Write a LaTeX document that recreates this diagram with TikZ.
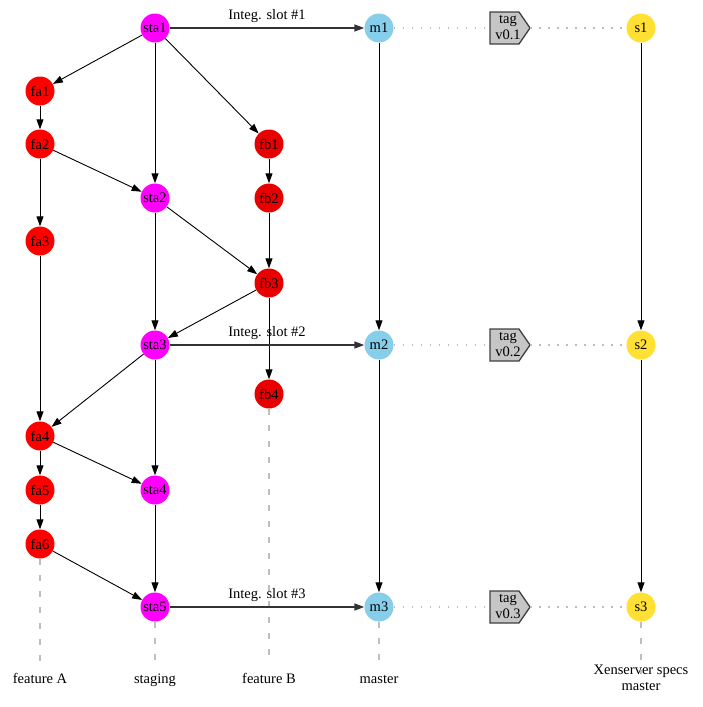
\documentclass[tikz,border=0pt]{standalone}
\usepackage{fontspec}
\setmainfont{Liberation Serif}
\usetikzlibrary{arrows.meta}
\definecolor{fared}{HTML}{FF0000}
\definecolor{fbred}{HTML}{E80000}
\definecolor{stamag}{HTML}{FF00FF}
\definecolor{msky}{HTML}{87CEEB}
\definecolor{syel}{HTML}{FFE033}
\definecolor{taggray}{HTML}{C6C6C6}
\definecolor{tagedge}{HTML}{404040}
\definecolor{guide}{HTML}{BEBEBE}
\definecolor{integ}{HTML}{333333}
\newcommand{\labelfont}{\fontsize{14.5}{16}\selectfont}
\tikzset{
  commit/.style={circle, minimum size=29pt, inner sep=0pt, draw=none, font=\labelfont},
  fa/.style={commit, fill=fared},
  fb/.style={commit, fill=fbred},
  sta/.style={commit, fill=stamag},
  mc/.style={commit, fill=msky},
  sc/.style={commit, fill=syel},
  flow/.style={draw=black, line width=0.9pt, -{Triangle[length=10pt,width=7pt]}},
  integedge/.style={draw=integ, line width=1.6pt, -{Triangle[length=10pt,width=7pt]}},
  integlabel/.style={midway, anchor=south, yshift=5pt, inner sep=0pt, text depth=3pt, font=\labelfont},
  tagline/.style={draw=guide, line width=1.4pt, dash pattern=on 1.5pt off 7.5pt},
  lane/.style={draw=guide, line width=1.2pt, dash pattern=on 6pt off 10pt},
  tagbox/.style={minimum width=40pt, minimum height=32pt, inner sep=0pt, draw=none},
  tagtext/.style={align=center, inner sep=0pt, font=\labelfont},
  branchlabel/.style={anchor=base, inner sep=0pt, text height=10pt, text depth=3pt, font=\labelfont, align=center},
}
% pentagon release tag drawn around a tagbox node
\newcommand{\tagshape}[1]{%
  \fill[taggray, draw=tagedge, line width=1.3pt]
    ([xshift=-20pt]#1.center) ++(0,-16) -- ++(29,0) -- ++(11,16) -- ++(-11,16) -- ++(-29,0) -- cycle;}
\begin{document}
\begin{tikzpicture}[x=1pt, y=-1pt]
\useasboundingbox (0,0) rectangle (703,707);

% commits
\node[sta] (sta1) at (155,28) {sta1};
\node[sta] (sta2) at (155,198) {sta2};
\node[sta] (sta3) at (155,345) {sta3};
\node[sta] (sta4) at (155,490) {sta4};
\node[sta] (sta5) at (155,607) {sta5};

\node[fa] (fa1) at (40,91) {fa1};
\node[fa] (fa2) at (40,144) {fa2};
\node[fa] (fa3) at (40,241) {fa3};
\node[fa] (fa4) at (40,436) {fa4};
\node[fa] (fa5) at (40,490) {fa5};
\node[fa] (fa6) at (40,544) {fa6};

\node[fb] (fb1) at (269,144) {fb1};
\node[fb] (fb2) at (269,198) {fb2};
\node[fb] (fb3) at (269,283) {fb3};
\node[fb] (fb4) at (269,394) {fb4};

\node[mc] (m1) at (379,28) {m1};
\node[mc] (m2) at (379,345) {m2};
\node[mc] (m3) at (379,607) {m3};

\node[sc] (s1) at (641,28) {s1};
\node[sc] (s2) at (641,345) {s2};
\node[sc] (s3) at (641,607) {s3};

% release tags
\node[tagbox] (t1) at (510,28) {};
\node[tagbox] (t2) at (510,345) {};
\node[tagbox] (t3) at (510,607) {};
\tagshape{t1}
\tagshape{t2}
\tagshape{t3}
\node[tagtext] (t1l) at (508,28) {tag\\v0.1};
\node[tagtext] (t2l) at (508,345) {tag\\v0.2};
\node[tagtext] (t3l) at (508,607) {tag\\v0.3};

\draw[tagline] (m1) -- (t1.west);
\draw[tagline] (t1.east) -- (s1);
\draw[tagline] (m2) -- (t2.west);
\draw[tagline] (t2.east) -- (s2);
\draw[tagline] (m3) -- (t3.west);
\draw[tagline] (t3.east) -- (s3);

% branch labels
\node[branchlabel] (lfa) at (40,683) {feature A};
\node[branchlabel] (lsta) at (155,683) {staging};
\node[branchlabel] (lfb) at (269,683) {feature B};
\node[branchlabel] (lm) at (379,683) {master};
\node[branchlabel] (ls) at (641,690) {Xenserver specs\\master};

\draw[lane, shorten >=11pt] (fa6) -- (lfa);
\draw[lane, shorten >=11pt] (sta5) -- (lsta);
\draw[lane, shorten >=11pt] (fb4) -- (lfb);
\draw[lane, shorten >=11pt] (m3) -- (lm);
\draw[lane, shorten >=6pt] (s3) -- (ls.north);

% history
\draw[flow] (sta1) -- (fa1);
\draw[flow] (sta1) -- (sta2);
\draw[flow] (sta1) -- (fb1);
\draw[flow] (fa1) -- (fa2);
\draw[flow] (fa2) -- (fa3);
\draw[flow] (fa2) -- (sta2);
\draw[flow] (fb1) -- (fb2);
\draw[flow] (fb2) -- (fb3);
\draw[flow] (sta2) -- (sta3);
\draw[flow] (sta2) -- (fb3);
\draw[flow] (fb3) -- (sta3);
\draw[flow] (fb3) -- (fb4);
\draw[flow] (fa3) -- (fa4);
\draw[flow] (sta3) -- (fa4);
\draw[flow] (sta3) -- (sta4);
\draw[flow] (fa4) -- (fa5);
\draw[flow] (fa4) -- (sta4);
\draw[flow] (fa5) -- (fa6);
\draw[flow] (fa6) -- (sta5);
\draw[flow] (sta4) -- (sta5);
\draw[flow] (m1) -- (m2);
\draw[flow] (m2) -- (m3);
\draw[flow] (s1) -- (s2);
\draw[flow] (s2) -- (s3);

% integration slots
\draw[integedge] (sta1) -- (m1) node[integlabel] {Integ. slot \#1};
\draw[integedge] (sta3) -- (m2) node[integlabel] {Integ. slot \#2};
\draw[integedge] (sta5) -- (m3) node[integlabel] {Integ. slot \#3};
\end{tikzpicture}
\end{document}
